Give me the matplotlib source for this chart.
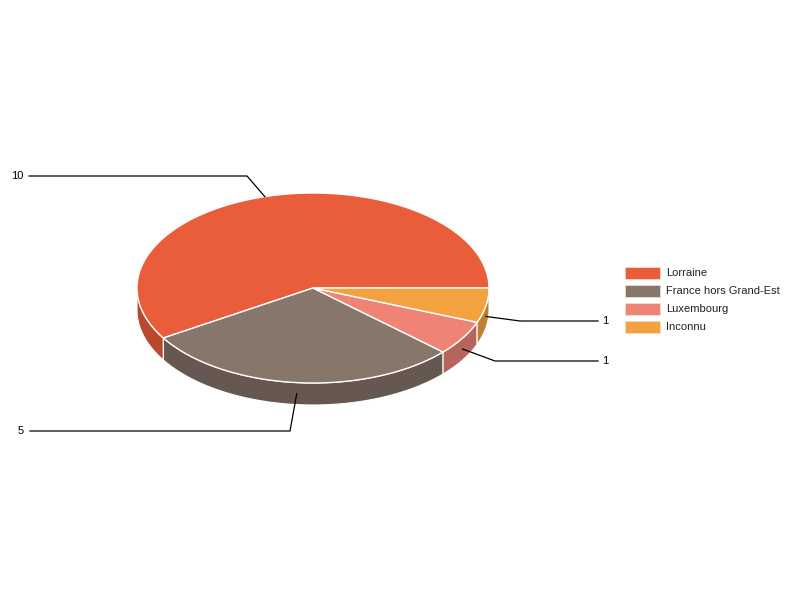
import numpy as np
import matplotlib
matplotlib.use("Agg")
import matplotlib.pyplot as plt
from matplotlib.patches import Polygon, Rectangle

plt.rcParams['font.family'] = ['Liberation Sans', 'DejaVu Sans']

labels = ['Lorraine', 'France hors Grand-Est', 'Luxembourg', 'Inconnu']
values = [10, 5, 1, 1]
top_colors = ['#E95D3A', '#87776A', '#EE8376', '#F4A140']
side_colors = ['#B8492C', '#665850', '#B5655C', '#C17F32']

# pie geometry (pixels)
cx, cy = 313, 288
rx, ry = 176, 95
depth = 22

fig = plt.figure(figsize=(8, 6), dpi=100)
ax = fig.add_axes([0, 0, 1, 1])
ax.set_xlim(0, 800)
ax.set_ylim(600, 0)
ax.axis('off')


def pt(a, dy=0):
    r = np.deg2rad(a)
    return cx + rx * np.cos(r), cy - ry * np.sin(r) + dy


total = sum(values)
starts = np.cumsum([0] + values[:-1]) / total * 360
ends = np.cumsum(values) / total * 360

# sides (front half only)
for s, e, col in zip(starts, ends, side_colors):
    a0, a1 = max(s, 180), min(e, 360)
    if a1 <= a0:
        continue
    aa = np.linspace(a0, a1, 80)
    top = [pt(a) for a in aa]
    bot = [pt(a, depth) for a in aa[::-1]]
    ax.add_patch(Polygon(top + bot, closed=True, facecolor=col,
                         edgecolor='white', linewidth=0.8, zorder=2))

# top faces
for s, e, col in zip(starts, ends, top_colors):
    aa = np.linspace(s, e, 200)
    poly = [(cx, cy)] + [pt(a) for a in aa]
    ax.add_patch(Polygon(poly, closed=True, facecolor=col,
                         edgecolor='white', linewidth=1, zorder=3))

# leader lines and value labels
label_pos = [(29, 247, 176), (30, 290, 431), (598, 495, 361), (598, 520, 321)]
for (s, e, v, (xt, xk, yt)) in zip(starts, ends, values, label_pos):
    m = (s + e) / 2
    if np.sin(np.deg2rad(m)) < 0:
        x0, y0 = pt(m, depth / 2)
    else:
        x0, y0 = pt(m)
    ax.plot([x0, xk, xt], [y0, yt, yt], color='black', linewidth=0.9, zorder=4)
    if xt < 300:
        ax.text(xt - 6, yt, str(v), ha='right', va='center', fontsize=8, zorder=5)
    else:
        ax.text(xt + 4, yt, str(v), ha='left', va='center', fontsize=8, zorder=5)

# legend
for i, (lab, col) in enumerate(zip(labels, top_colors)):
    y = 267 + 18 * i
    ax.add_patch(Rectangle((625, y), 35, 11.5, facecolor=col,
                           edgecolor='#f6d9cc', linewidth=0.6, zorder=3))
    ax.text(666, y + 6, lab, ha='left', va='center', fontsize=8, color='#222222')

fig.savefig('out.png', dpi=100)
